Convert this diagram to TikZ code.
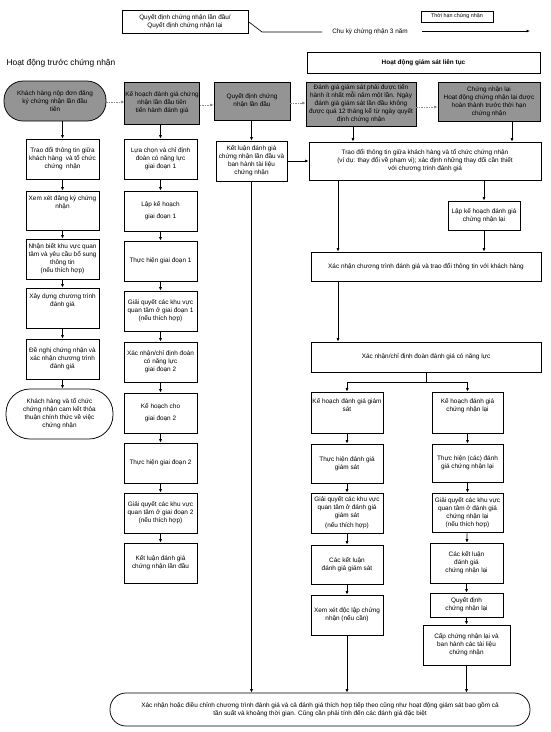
\documentclass[tikz,border=0pt]{standalone}
\usepackage{fontspec}
\setmainfont{Liberation Sans}
\usetikzlibrary{arrows.meta}
\newcommand{\fs}{\fontsize{6.4}{8}\selectfont}
\tikzset{
  x=1pt, y=-1pt,
  box/.style={draw, line width=0.75pt, align=center, inner sep=0.5pt, font=\fs},
  greybox/.style={box, fill=black!42},
  stadium/.style={box},
  arr/.style={line width=0.65pt, -{Latex[length=3.5pt,width=3pt]}},
  dasharr/.style={line width=0.6pt, draw=black!45, dash pattern=on 1.5pt off 1pt, -{Latex[length=3.5pt,width=3pt]}},
  plain/.style={line width=0.65pt}
}
\begin{document}
\begin{tikzpicture}
\useasboundingbox (0,0) rectangle (551,732);
% header
\node[box, minimum width=126pt, minimum height=23pt, line width=0.6pt] (qd) at (185,21.5) {Quyết định chứng nhận lần đầu/\\Quyết định chứng nhận lại};
\coordinate (k1) at (262,32);
\coordinate (k2) at (322,32);
\draw[plain] (qd.east) -- (k1) -- (k2);
\node[font=\fs, anchor=center] (ck) at (370,32) {Chu kỳ chứng nhận 3 năm};
\coordinate (a1) at (422,31);
\coordinate (a2) at (530,31);
\draw[arr, line width=0.8pt] (a1) -- (a2);
\node[box, minimum width=72pt, minimum height=11pt, line width=0.6pt, font=\fontsize{5.4}{6}\selectfont] (th) at (457,16.5) {Thời hạn chứng nhận};
\node[anchor=west, font=\fontsize{8.4}{9}\selectfont] (pre) at (3,63) {Hoạt động trước chứng nhận};
\node[box, minimum width=233pt, minimum height=21pt, font=\fs\bfseries] (gs) at (423.5,62.5) {Hoạt động giám sát liên tục};
% top grey row
\node[greybox, rounded corners=19pt, minimum width=102pt, minimum height=40pt] (t1) at (55,101) {Khách hàng nộp đơn đăng\\ký chứng nhận lần đầu\\tiên};
\node[greybox, minimum width=74pt, minimum height=42pt] (t2) at (162,103) {Kế hoạch đánh giá chứng\\nhận lần đầu tiên\\tiến hành đánh giá};
\node[greybox, minimum width=76pt, minimum height=38pt] (t3) at (252,101) {Quyết định chứng\\nhận lần đầu};
\node[greybox, minimum width=110pt, minimum height=44pt] (t4) at (361,104) {Đánh giá giám sát phải được tiến\\hành ít nhất mỗi năm một lần. Ngày\\đánh giá giám sát lần đầu không\\được quá 12 tháng kể từ ngày quyết\\định chứng nhận};
\node[greybox, minimum width=102pt, minimum height=39pt] (t5) at (489,101.5) {Chứng nhận lại\\Hoạt động chứng nhận lại được\\hoàn thành trước thời hạn\\chứng nhận};
\draw[dasharr] ([yshift=-1pt]t1.east) -- ([yshift=-1pt]t1.east -| t2.west);
\draw[dasharr] ([yshift=-2pt]t2.east) -- ([yshift=-2pt]t2.east -| t3.west);
\draw[dasharr] ([yshift=-2pt]t3.east) -- ([yshift=-2pt]t3.east -| t4.west);
\draw[dasharr] ([yshift=-3pt]t4.east) -- ([yshift=-3pt]t4.east -| t5.west);
% column 1
\node[box, minimum width=73pt, minimum height=40pt] (c1a) at (62.5,159) {Trao đổi thông tin giữa\\khách hàng \ và tổ chức\\chứng \ nhận};
\node[box, minimum width=73pt, minimum height=39pt] (c1b) at (62.5,210.5) {Xem xét đăng ký chứng\\nhận\\[8pt]};
\node[box, minimum width=73pt, minimum height=40pt] (c1c) at (62.5,259) {Nhận biết khu vực quan\\tâm và yêu cầu bổ sung\\thông tin\\(nếu thích hợp)};
\node[box, minimum width=73pt, minimum height=40pt] (c1d) at (62.5,308) {Xây dựng chương trình\\đánh giá\\[8pt]};
\node[box, minimum width=73pt, minimum height=40pt] (c1e) at (62.5,359) {Đề nghị chứng nhận và\\xác nhận chương trình\\đánh giá};
\node[stadium, rounded corners=24pt, minimum width=107pt, minimum height=50pt] (c1f) at (59.5,414) {Khách hàng và tổ chức\\chứng nhận cam kết thỏa\\thuận chính thức về việc\\chứng nhận};
\draw[arr] (t1.south -| c1a.north) -- (c1a.north);
\draw[arr] (c1a) -- (c1b);
\draw[arr] (c1b) -- (c1c);
\draw[arr] (c1c) -- (c1d);
\draw[arr] (c1d) -- (c1e);
\draw[arr] (c1e.south) -- (c1e.south |- c1f.north);
% column 2
\node[box, minimum width=73pt, minimum height=40pt] (c2a) at (160.5,159) {Lựa chọn và chỉ định\\đoàn có năng lực\\giai đoạn 1};
\node[box, minimum width=73pt, minimum height=40pt] (c2b) at (160.5,211) {Lập kế hoạch\\[4pt]giai đoạn 1};
\node[box, minimum width=73pt, minimum height=40pt] (c2c) at (160.5,261) {Thực hiện giai đoạn 1};
\node[box, minimum width=73pt, minimum height=40pt] (c2d) at (160.5,311) {Giải quyết các khu vực\\quan tâm ở giai đoạn 1\\(nếu thích hợp)};
\node[box, minimum width=73pt, minimum height=40pt] (c2e) at (160.5,362) {Xác nhận/chỉ định đoàn\\có năng lực\\giai đoạn 2};
\node[box, minimum width=73pt, minimum height=40pt] (c2f) at (160.5,413) {Kế hoạch cho\\[4pt]giai đoạn 2};
\node[box, minimum width=73pt, minimum height=40pt] (c2g) at (160.5,463) {Thực hiện giai đoạn 2};
\node[box, minimum width=73pt, minimum height=40pt] (c2h) at (160.5,513) {Giải quyết các khu vực\\quan tâm ở giai đoạn 2\\(nếu thích hợp)};
\node[box, minimum width=73pt, minimum height=40pt] (c2i) at (160.5,563) {Kết luận đánh giá\\chứng nhận lần đầu};
\draw[arr] (t2.south -| c2a.north) -- (c2a.north);
\draw[arr] (c2a) -- (c2b);
\draw[arr] (c2b) -- (c2c);
\draw[arr] (c2c) -- (c2d);
\draw[arr] (c2d) -- (c2e);
\draw[arr] (c2e) -- (c2f);
\draw[arr] (c2f) -- (c2g);
\draw[arr] (c2g) -- (c2h);
\draw[arr] (c2h) -- (c2i);
% column 3
\node[box, minimum width=71pt, minimum height=40pt] (c3) at (251.5,161) {Kết luận đánh giá\\chứng nhận lần đầu và\\ban hành tài liệu\\chứng nhận};
\draw[arr] (t3.south -| c3.north) -- (c3.north);
% right side
\node[box, minimum width=232pt, minimum height=38pt] (R1) at (425,161) {Trao đổi thông tin giữa khách hàng và tổ chức chứng nhận\\(ví dụ: thay đổi về phạm vi); xác định những thay đổi cần thiết\\với chương trình đánh giá};
\node[box, minimum width=72pt, minimum height=29pt] (R2) at (484,215.5) {Lập kế hoạch đánh giá\\chứng nhận lại};
\node[box, minimum width=230pt, minimum height=29pt] (R3) at (426,266.5) {Xác nhận chương trình đánh giá và trao đổi thông tin với khách hàng};
\node[box, minimum width=230pt, minimum height=30pt] (R4) at (426,357) {Xác nhận/chỉ định đoàn đánh giá có năng lực};
\coordinate (xa) at (338,0);
\coordinate (brY) at (0,382);
\draw[arr] ([xshift=-8pt]t4.south) -- ([xshift=-8pt]t4.south |- R1.north);
\draw[arr] ([xshift=23pt]t5.south) -- ([xshift=23pt]t5.south |- R1.north);
\draw[arr] (c3.east) -- (c3.east -| R1.west);
\draw[arr] (R2.north |- R1.south) -- (R2.north);
\draw[arr] (R1.south -| xa) -- (R3.north -| xa);
\draw[arr] (R2.south) -- (R2.south |- R3.north);
\draw[arr] (R3.south -| xa) -- (R4.north -| xa);
% sub-columns
\node[box, minimum width=72pt, minimum height=41pt] (L1) at (347,412.5) {Kế hoạch đánh giá giám\\sát\\[6pt]};
\node[box, minimum width=72pt, minimum height=39pt] (L2) at (347,463.5) {Thực hiện đánh giá\\giám sát};
\node[box, minimum width=72pt, minimum height=40pt] (L3) at (347,513) {Giải quyết các khu vực\\quan tâm ở đánh giá\\giám sát\\[2pt](nếu thích hợp)};
\node[box, minimum width=72pt, minimum height=39pt] (L4) at (347,564.5) {Các kết luận\\đánh giá giám sát};
\node[box, minimum width=72pt, minimum height=40pt] (L5) at (347,615) {Xem xét độc lập chứng\\nhận (nếu cần)};
\node[box, minimum width=71pt, minimum height=41pt] (Q1) at (467.5,412.5) {Kế hoạch đánh giá\\chứng nhận lại\\[6pt]};
\node[box, minimum width=71pt, minimum height=38pt] (Q2) at (467.5,463) {Thực hiện (các) đánh\\giá chứng nhận lại};
\node[box, minimum width=71pt, minimum height=39pt] (Q3) at (467.5,512.5) {Giải quyết các khu vực\\quan tâm ở đánh giá\\chứng nhận lại\\(nếu thích hợp)};
\node[box, minimum width=73pt, minimum height=40pt] (Q4) at (466.5,563) {Các kết luận\\đánh giá\\chứng nhận lại};
\node[box, minimum width=73pt, minimum height=24pt] (Q5) at (466.5,605) {Quyết định\\chứng nhận lại};
\node[box, minimum width=87pt, minimum height=40pt] (Q6) at (466.5,645) {Cấp chứng nhận lại và\\ban hành các tài liệu\\chứng nhận};
\draw[arr] (R4.south) -- (R4.south |- brY) -| (L1.north);
\draw[arr] (R4.south |- brY) -| (Q1.north);
\draw[arr] (L1) -- (L2);
\draw[arr] (L2) -- (L3);
\draw[arr] (L3) -- (L4);
\draw[arr] (L4) -- (L5);
\draw[arr] (Q1) -- (Q2);
\draw[arr] (Q2) -- (Q3);
\draw[arr] (Q3) -- (Q4);
\draw[arr] (Q4) -- (Q5);
\draw[arr] (Q5) -- (Q6);
% bottom
\node[stadium, rounded corners=16pt, minimum width=420pt, minimum height=33pt] (B) at (320,709.5) {Xác nhận hoặc điều chỉnh chương trình đánh giá và cả đánh giá thích hợp tiếp theo cũng như hoạt động giám sát bao gồm cả\\tần suất và khoảng thời gian. Cũng cần phải tính đến các đánh giá đặc biệt};
\draw[arr] (c3.south) -- (c3.south |- B.north);
\draw[arr] (L5.south) -- (L5.south |- B.north);
\draw[arr] (Q6.south) -- (Q6.south |- B.north);
\end{tikzpicture}
\end{document}
